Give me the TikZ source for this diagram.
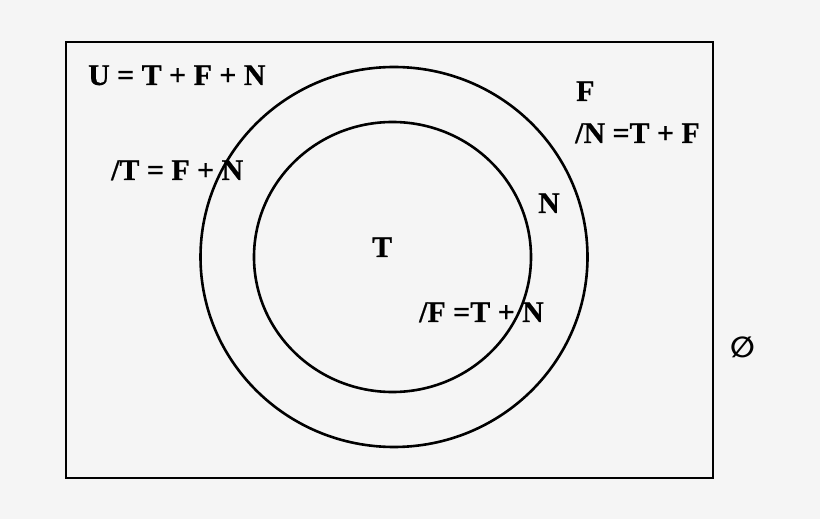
\documentclass[tikz,border=0pt]{standalone}
\usepackage{fontspec}
\setmainfont{Liberation Serif}[BoldFeatures={FakeBold=0.6}]
\newfontfamily\symfont{DejaVu Sans}
\definecolor{bgcol}{HTML}{F5F5F5}
\begin{document}
\begin{tikzpicture}[x=1bp,y=-1bp,
  lbl/.style={inner sep=0pt,anchor=base west,font=\fontsize{30}{30}\selectfont\bfseries},
  ring/.style={draw=black,line width=2.6bp}]
\useasboundingbox[fill=bgcol] (0,0) rectangle (820,519);
\draw[line width=1.6bp] (66,42) rectangle (713,478);
\draw[line width=2.6bp] (713,42) -- (713,478);
\draw[ring] (394,257) ellipse [x radius=193.5, y radius=190];
\draw[ring] (392.5,257) ellipse [x radius=138.5, y radius=135];
\node[lbl] (u) at (88,85) {U = T + F + N};
\node[lbl] (nt) at (111,180) {/T = F + N};
\node[lbl] (f) at (576,101) {F};
\node[lbl] (nn) at (575,143) {/N =T + F};
\node[lbl] (n) at (538,213) {N};
\node[lbl] (t) at (372,257) {T};
\node[lbl] (nf) at (419,322) {/F =T + N};
\node[inner sep=0pt,anchor=base west,font=\symfont\bfseries\fontsize{29}{29}\selectfont] (empty) at (730,357) {∅};
\end{tikzpicture}
\end{document}
